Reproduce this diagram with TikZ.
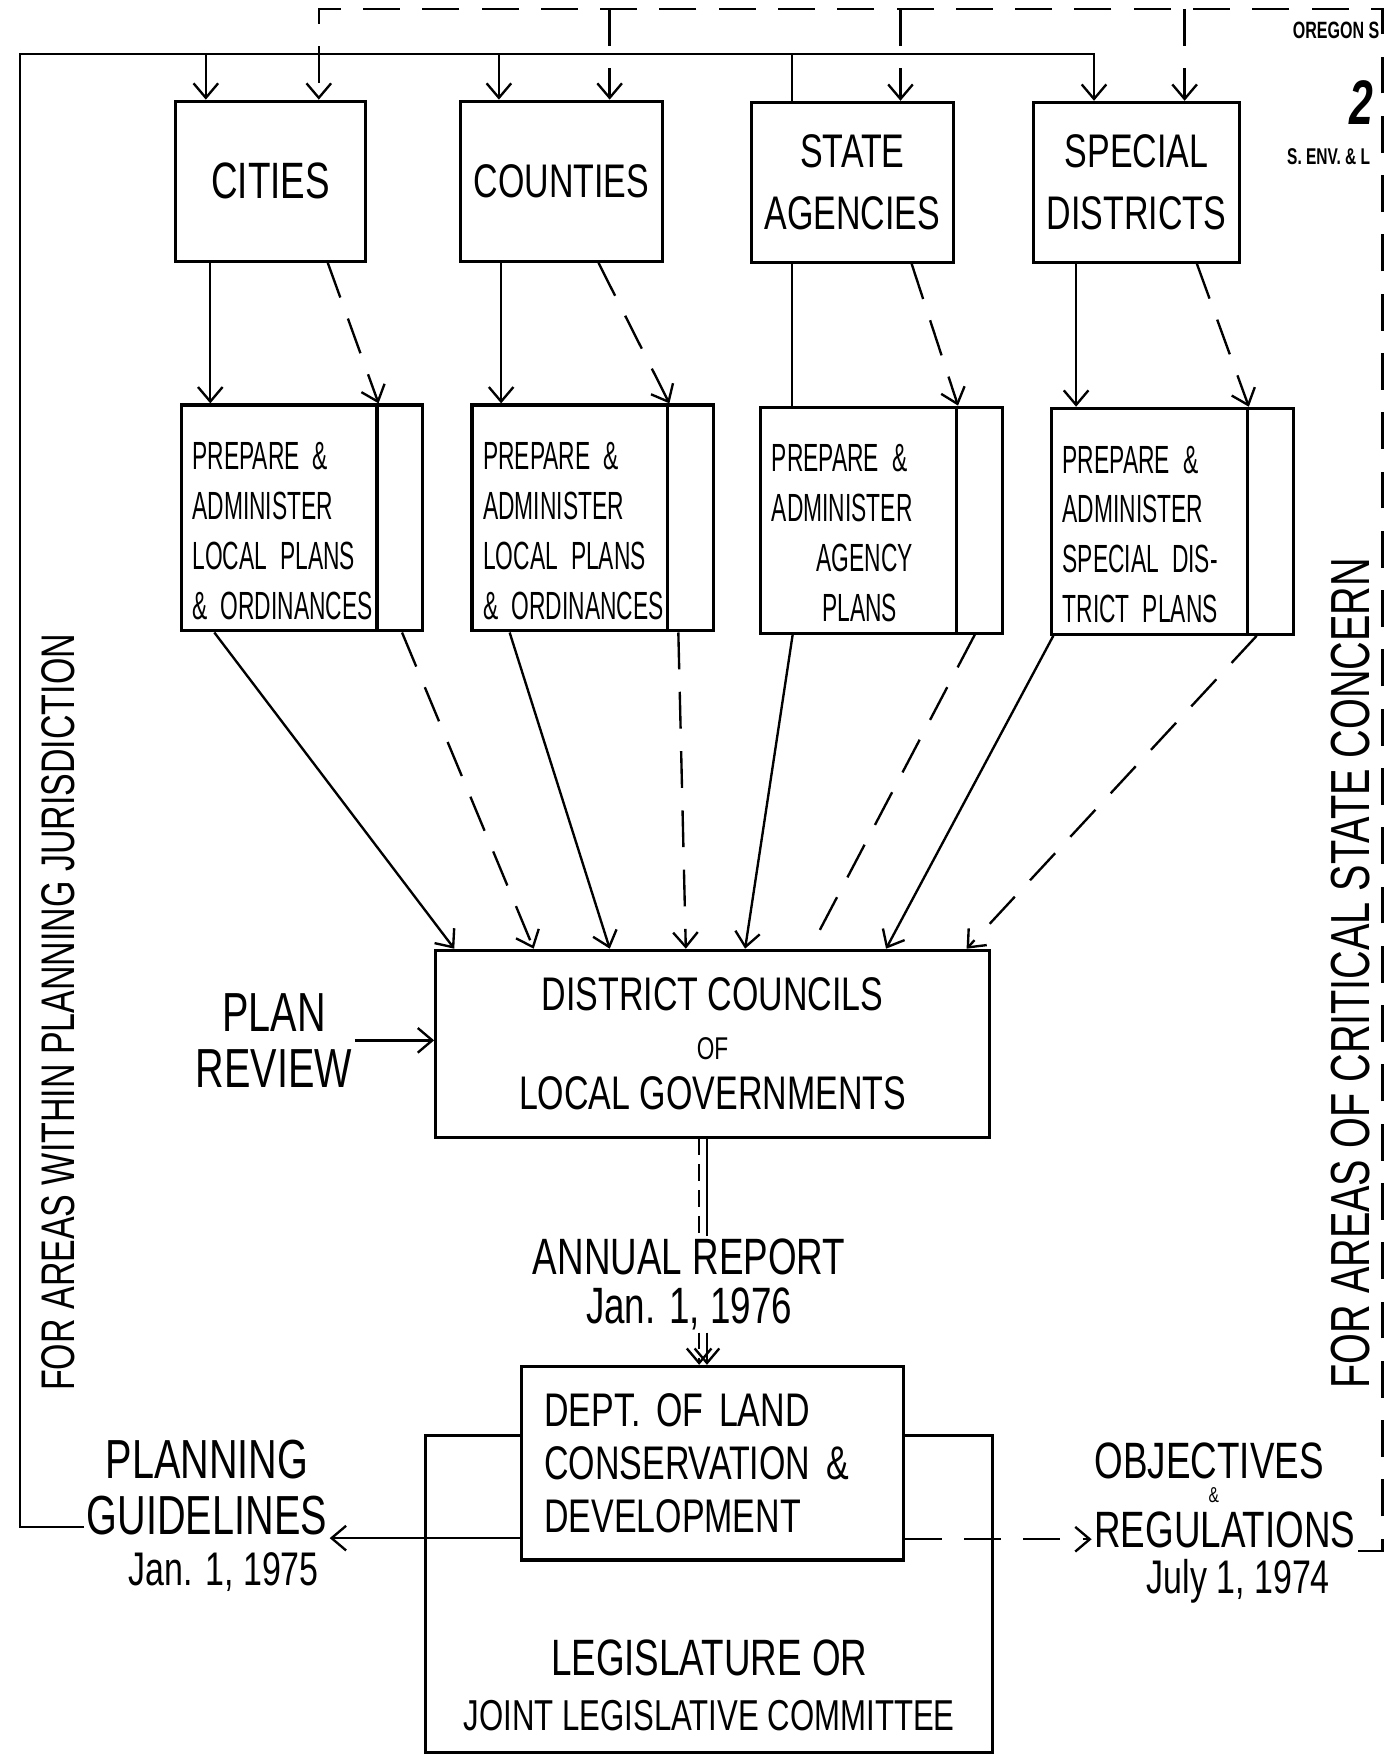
\documentclass[tikz,border=0pt]{standalone}
\usepackage{fontspec}
\setmainfont[FakeStretch=0.72]{Liberation Sans}
\newfontfamily\prepfont[FakeStretch=0.58]{Liberation Sans}
\newfontfamily\headfont[FakeStretch=0.68]{Liberation Sans}
\usetikzlibrary{positioning,arrows.meta}
\tikzset{node distance=2mm, x=0.1mm, y=-0.1mm,
  >={Straight Barb[length=1.3mm,width=2.2mm]},
  line/.style={draw,semithick},
  dashline/.style={draw,semithick,dash pattern=on 3.3mm off 2mm},
  topbox/.style={draw,thick,minimum width=17mm,minimum height=14.3mm,align=center,font=\fontsize{12}{15.6}\selectfont},
  prepbox/.style={draw,thick,minimum height=20.2mm,text width=19.6mm,inner xsep=1mm,inner ysep=0pt,align=left,
    font=\prepfont\fontsize{10}{12.7}\selectfont,
    path picture={\draw[thick] ([xshift=-4.1mm]path picture bounding box.north east) -- ([xshift=-4.1mm]path picture bounding box.south east);}},
  bigbox/.style={draw,thick},
  hand/.style={align=center,inner sep=0.5pt}}
\begin{document}
\begin{tikzpicture}
\useasboundingbox (0,0) rectangle (1239,1568);

\node[topbox,font=\fontsize{13}{15.6}\selectfont] (C) at (242,162) {CITIES};
\node[topbox] (Co) at (502,162) {COUNTIES};
\node[topbox] (SA) at (762,163) {STATE\\AGENCIES};
\node[topbox] (SD) at (1016,163) {SPECIAL\\DISTRICTS};

\node[prepbox] (P1) at (270,463) {\rule{0pt}{4.8mm}PREPARE \&\\ADMINISTER\\LOCAL PLANS\\\& ORDINANCES};
\node[prepbox] (P2) at (530,463) {\rule{0pt}{4.8mm}PREPARE \&\\ADMINISTER\\LOCAL PLANS\\\& ORDINANCES};
\node[prepbox] (P3) at (788,465) {\rule{0pt}{4.8mm}PREPARE \&\\ADMINISTER\\\hspace*{4mm}AGENCY\\\hspace*{4.5mm}PLANS};
\node[prepbox] (P4) at (1048,466) {\rule{0pt}{4.8mm}PREPARE \&\\ADMINISTER\\SPECIAL DIS-\\TRICT PLANS};

\node[bigbox,minimum width=49.5mm,minimum height=16.7mm,align=center,font=\fontsize{12}{12.5}\selectfont] (DC) at (637,933) {DISTRICT COUNCILS\\{\footnotesize OF}\\LOCAL GOVERNMENTS};
\node[hand,font=\fontsize{14}{14.2}\selectfont] (PR) at (245,930) {PLAN\\REVIEW};
\node[hand,font=\fontsize{13}{12.5}\selectfont] (AR) at (616,1148) {ANNUAL REPORT\\Jan. 1, 1976};

\node[bigbox,minimum width=50.7mm,minimum height=28.3mm] (L) at (634,1425) {};
\node[bigbox,fill=white,minimum height=17.3mm,text width=30.1mm,inner xsep=2mm,align=left,font=\fontsize{12}{13.4}\selectfont] (D) at (637,1308) {DEPT. OF LAND\\CONSERVATION \&\\DEVELOPMENT};
\node[hand,font=\fontsize{13}{14}\selectfont,above=1.8mm of L.south] (LT) {LEGISLATURE OR\\{\fontsize{11}{14}\selectfont JOINT LEGISLATIVE COMMITTEE}};

\node[hand,font=\fontsize{14}{14.2}\selectfont] (PG) at (185,1330) {PLANNING\\GUIDELINES};
\node[hand,inner sep=0pt,font=\fontsize{12}{13}\selectfont] (PGd) at (200,1405) {Jan. 1, 1975};
\node[hand,font=\fontsize{13}{14}\selectfont] (O) at (1081,1306) {OBJECTIVES};
\node[hand,inner sep=0pt,font=\fontsize{5.5}{6}\selectfont] (A) at (1085,1337) {\&};
\node[hand,font=\fontsize{13}{14}\selectfont] (R) at (1095,1368) {REGULATIONS};
\node[hand,font=\fontsize{12}{13}\selectfont] (Rd) at (1107,1414) {July 1, 1974};

\node[rotate=90,font=\fontsize{12}{14}\selectfont] (FW) at (52,905) {FOR AREAS WITHIN PLANNING JURISDICTION};
\node[rotate=90,font=\fontsize{14}{16}\selectfont] (FC) at (1207,870) {FOR AREAS OF CRITICAL STATE CONCERN};

\node[anchor=west,inner sep=0pt,font=\headfont\bfseries\fontsize{6}{7}\selectfont] (H1) at (1155,27) {OREGON S};
\node[anchor=west,font=\headfont\bfseries\itshape\fontsize{16}{17}\selectfont] (H2) at (1194,92) {2};
\node[anchor=west,inner sep=0pt,font=\headfont\bfseries\fontsize{5.8}{6}\selectfont] (H3) at (1150,140) {S. ENV. \& L};

\coordinate (S) at (18,48);
\coordinate (T) at (1236,8);
\coordinate (g) at ([yshift=-4.5mm]PG.east);
\coordinate (r) at ([yshift=-0.8mm]R.west);

\path[line,->] ([yshift=-3.5mm]PG.west) -| (S) -| ([xshift=-3.8mm]SD.north);
\path[line,->] ([xshift=-5.8mm]C.north |- S) -- ([xshift=-5.8mm]C.north);
\path[line,->] ([xshift=-5.6mm]Co.north |- S) -- ([xshift=-5.6mm]Co.north);
\path[line] ([xshift=-5.4mm]SA.north |- S) -- ([xshift=-5.4mm]SA.north);

\path[dashline,->] (R.south east) -- (R.south east -| T) -- (T) -| ([xshift=4.3mm]C.north);
\foreach \n in {Co,SA,SD}
  \path[dashline,->] ([xshift=4.3mm]\n.north |- T) -- ([xshift=4.3mm]\n.north);

\foreach \n/\p in {C/P1,Co/P2,SD/P4}
  \path[line,->] ([xshift=-5.4mm]\n.south) -- ([xshift=-5.4mm]\n.south |- \p.north);
\path[line] ([xshift=-5.4mm]SA.south) -- ([xshift=-5.4mm]SA.south |- P3.north);
\foreach \n/\p/\s in {C/P1/5.1,Co/P2/3.3,SA/P3/5.3,SD/P4/5.4}
  \path[dashline,->] ([xshift=\s mm]\n.south) -- ([xshift=-4.1mm]\p.north east);

\foreach \p/\a/\b in {P1/3.1/1.8,P2/3.5/15.7,P3/3/27.8,P4/0.3/40.4}
  \path[line,->] ([xshift=\a mm]\p.south west) -- ([xshift=\b mm]DC.north west);
\foreach \p/\a/\b in {P1/-2/8.9,P2/-3.3/22.5,P4/-3.4/47.6}
  \path[dashline,->] ([xshift=\a mm]\p.south east) -- ([xshift=\b mm]DC.north west);
\path[dashline] ([xshift=-2.6mm]P3.south east) -- ([xshift=33.6mm]DC.north west);

\path[line,->] (PR.east) -- (DC.west |- PR.east);

\path[draw,semithick,dash pattern=on 1.5mm off 0.8mm] ([xshift=-1.2mm]DC.south) -- ([xshift=-1.2mm]DC.south |- AR.north);
\path[line] ([xshift=-0.5mm]DC.south) -- ([xshift=-0.5mm]DC.south |- AR.north);
\path[draw,semithick,dash pattern=on 1.5mm off 0.8mm,->] ([xshift=-1.2mm]D.north |- AR.south) -- ([xshift=-1.2mm]D.north);
\path[line,->] ([xshift=-0.5mm]D.north |- AR.south) -- ([xshift=-0.5mm]D.north);

\path[line,->] (D.west |- g) -- (g);
\path[dashline,->] (D.east |- r) -- (r);
\end{tikzpicture}
\end{document}
